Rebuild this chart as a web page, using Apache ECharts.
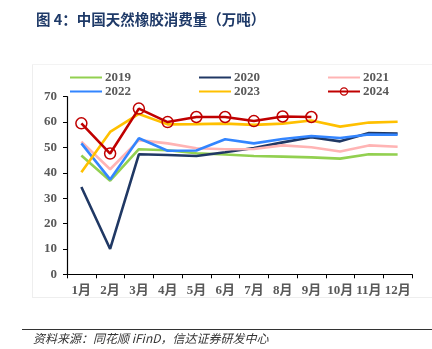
<!DOCTYPE html>
<html>
<head>
<meta charset="utf-8">
<script src="https://cdn.jsdelivr.net/npm/echarts@6/dist/echarts.min.js"></script>
<style>
  html, body { margin: 0; padding: 0; background: #fff; }
  #chart { width: 432px; height: 349px; }
</style>
</head>
<body>
<div id="chart"></div>
<script>
// Monthly natural rubber consumption in China (10k tonnes)
const months = ['1月', '2月', '3月', '4月', '5月', '6月', '7月', '8月', '9月', '10月', '11月', '12月'];
const yTicks = [0, 10, 20, 30, 40, 50, 60, 70];

const s2019 = [46.8, 36.9, 49.3, 48.9, 47.7, 47.2, 46.6, 46.4, 46.1, 45.6, 47.3, 47.2];
const s2020 = [34.4, 10.0, 47.3, 47.0, 46.6, 48.1, 49.8, 52.0, 54.0, 52.4, 55.7, 55.5];
const s2021 = [52.3, 41.4, 52.9, 51.6, 49.7, 49.3, 49.4, 50.8, 50.1, 48.4, 50.8, 50.3];
const s2022 = [51.6, 37.4, 53.6, 48.7, 48.8, 53.2, 51.6, 53.3, 54.5, 53.7, 55.1, 55.0];
const s2023 = [40.2, 56.1, 63.2, 59.1, 59.2, 59.4, 58.9, 59.4, 60.6, 58.2, 59.8, 60.1];
const s2024 = [59.5, 47.6, 65.3, 60.0, 62.0, 62.0, 60.4, 62.2, 62.0];

const seriesNames = ['2019', '2020', '2021', '2022', '2023', '2024'];
const seriesColors = ['#92d050', '#203864', '#ffb4b4', '#3385ff', '#ffc000', '#c00000'];
const seriesData = [s2019, s2020, s2021, s2022, s2023, s2024];
const markedSeries = '2024';

const serifBold = { fontFamily: 'Liberation Serif', fontWeight: 'bold', color: '#595959', fontSize: 13 };

const chart = echarts.init(document.getElementById('chart'), null, { renderer: 'canvas' });

const series = seriesNames.map((name, i) => {
  const marked = name === markedSeries;
  return {
    name: name,
    type: 'line',
    data: seriesData[i],
    symbol: marked ? 'circle' : 'none',
    symbolSize: 11,
    showSymbol: marked,
    z: marked ? 10 : 2 + i,
    lineStyle: { color: seriesColors[i], width: 2.6 },
    itemStyle: marked
      ? { color: 'rgba(255,255,255,0)', borderColor: seriesColors[i], borderWidth: 1.5 }
      : { color: seriesColors[i] },
    emphasis: { disabled: true },
    animation: false
  };
});

// legend entries: plain line for most years, line with ring for the marked one
function legendItem(name) {
  if (name === markedSeries) {
    return { name: name, itemStyle: { color: 'rgba(255,255,255,0)', borderColor: seriesColors[seriesNames.indexOf(name)], borderWidth: 1.3 } };
  }
  return { name: name, itemStyle: { color: 'rgba(0,0,0,0)', borderColor: 'rgba(0,0,0,0)', borderWidth: 0 } };
}

function legendColumn(left, names) {
  return {
    orient: 'vertical',
    left: left,
    top: 66,
    itemWidth: 32,
    itemHeight: 9,
    itemGap: 1,
    data: names.map(legendItem),
    textStyle: Object.assign({}, serifBold, { padding: [0, 0, 0, -2] }),
    selectedMode: false
  };
}

chart.setOption({
  animation: false,
  backgroundColor: '#fff',
  title: {
    text: '图 4：中国天然橡胶消费量（万吨）',
    left: 31,
    top: 7,
    textStyle: { fontFamily: 'Noto Sans CJK SC', fontWeight: 'bold', fontSize: 14.5, color: '#1f3a68' }
  },
  legend: [
    legendColumn(64, ['2019', '2022']),
    legendColumn(193, ['2020', '2023']),
    legendColumn(322, ['2021', '2024'])
  ],
  grid: { left: 67, right: 20, top: 96.7, bottom: 74.7, containLabel: false },
  xAxis: {
    type: 'category',
    data: months,
    boundaryGap: true,
    axisLine: { lineStyle: { color: '#000', width: 1.2 } },
    axisTick: { show: true, length: 4, alignWithLabel: false, lineStyle: { color: '#000' } },
    axisLabel: Object.assign({ margin: 10, interval: 0 }, serifBold, { fontFamily: 'Liberation Serif, Noto Sans CJK SC' }),
    splitLine: { show: false }
  },
  yAxis: {
    type: 'value',
    min: yTicks[0],
    max: yTicks[yTicks.length - 1],
    interval: 10,
    axisLine: { show: true, lineStyle: { color: '#000', width: 1.2 } },
    axisTick: { show: true, length: 4, lineStyle: { color: '#000' } },
    axisLabel: Object.assign({ margin: 10 }, serifBold),
    splitLine: { show: false }
  },
  graphic: [
    // faint frame around the chart body
    { type: 'line', shape: { x1: 32.5, y1: 64, x2: 32.5, y2: 297 }, style: { stroke: '#eeeeee', lineWidth: 1 } },
    { type: 'line', shape: { x1: 32, y1: 297.5, x2: 432, y2: 297.5 }, style: { stroke: '#eeeeee', lineWidth: 1 } },
    { type: 'line', shape: { x1: 32, y1: 64.5, x2: 432, y2: 64.5 }, style: { stroke: '#f3f3f3', lineWidth: 1 } },
    // source note rule and text
    { type: 'line', shape: { x1: 22, y1: 329.5, x2: 432, y2: 329.5 }, style: { stroke: '#333', lineWidth: 1 } },
    {
      type: 'text', left: 33, top: 332,
      style: {
        text: '资料来源：同花顺 iFinD，信达证券研发中心',
        font: 'italic 12px "Noto Sans CJK SC"',
        fill: '#333'
      }
    }
  ],
  series: series
});
</script>
</body>
</html>
